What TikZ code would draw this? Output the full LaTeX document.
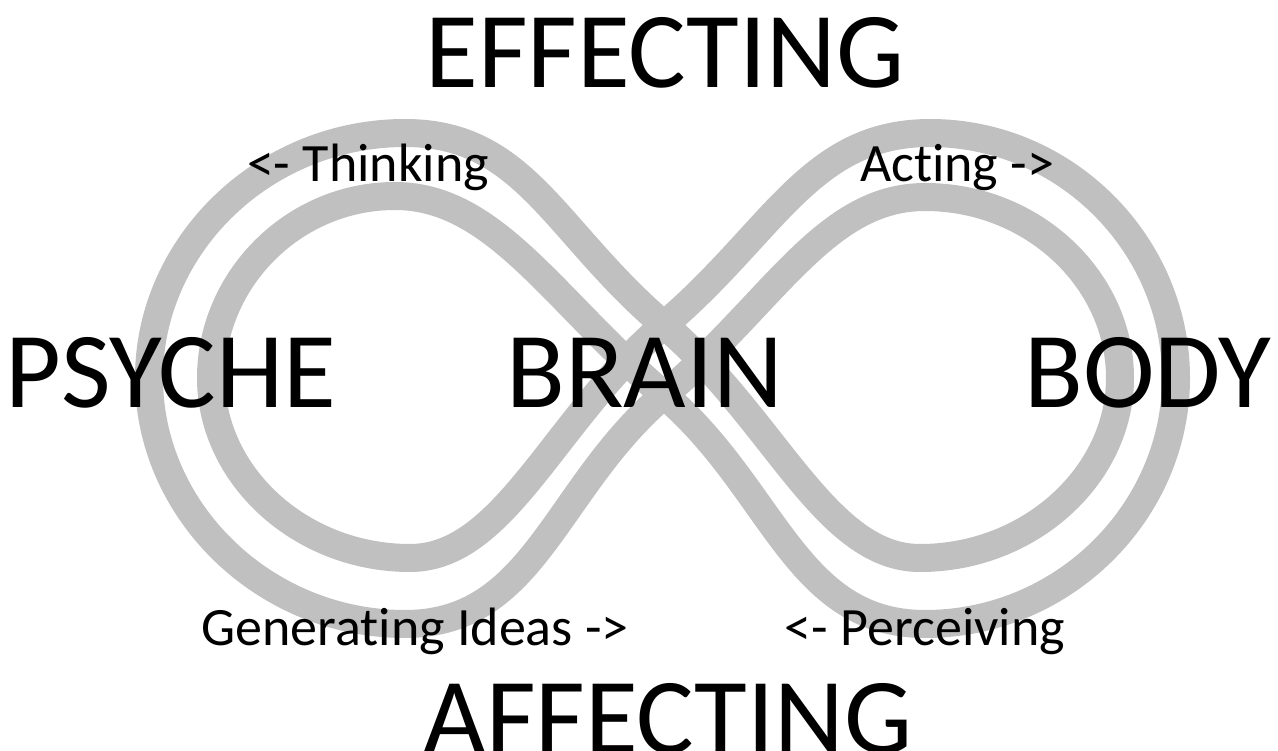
\documentclass[tikz,border=0pt]{standalone}
\usepackage{fontspec}
\setmainfont{Carlito}[Ligatures=NoCommon]
\definecolor{loopgray}{HTML}{C0C0C0}
\begin{document}
\begin{tikzpicture}[x=1pt,y=-1pt,
  loopline/.style={draw=loopgray,line width=28pt,line join=round},
  bigtext/.style={font=\fontsize{108}{110}\selectfont,anchor=base,inner sep=0pt},
  smalltext/.style={font=\fontsize{54}{56}\selectfont,anchor=base,inner sep=0pt}]
\useasboundingbox[fill=white] (0,0) rectangle (1278,751);
% edge curve: left lobe outer + right lobe inner
\path[loopline] (664,325) .. controls (774,418) and (825,558) .. (920,558)
  .. controls (1030,558) and (1120,475) .. (1120,378)
  .. controls (1120,280) and (1033,197) .. (925,197)
  .. controls (825,197) and (774,301.5) .. (664,395)
  .. controls (554,488.5) and (535,624) .. (405,624)
  .. controls (264,624) and (149,511) .. (149,378)
  .. controls (149,245) and (264,133) .. (405,133)
  .. controls (525,133) and (554,231.5) .. (664,325) -- cycle;
% edge curve: left lobe inner + right lobe outer
\path[loopline] (664,395) .. controls (774,488.5) and (795,624) .. (925,624)
  .. controls (1064,624) and (1176,511) .. (1176,378)
  .. controls (1176,245) and (1066,133) .. (930,133)
  .. controls (810,133) and (774,231.5) .. (664,325)
  .. controls (554,418.5) and (505,558) .. (410,558)
  .. controls (300,558) and (211,475) .. (211,378)
  .. controls (211,280) and (293,196) .. (395,196)
  .. controls (495,196) and (554,301.5) .. (664,395) -- cycle;
\node[bigtext] (effecting) at (665,88) {EFFECTING};
\node[bigtext] (psyche) at (171,408) {PSYCHE};
\node[bigtext] (brain) at (645,408) {BRAIN};
\node[bigtext] (body) at (1148,408) {BODY};
\node[bigtext] (affecting) at (668,753) {AFFECTING};
\node[smalltext] (thinking) at (368,182) {<- Thinking};
\node[smalltext] (acting) at (957,182) {Acting ->};
\node[smalltext] (generating) at (415,645) {Generating Ideas ->};
\node[smalltext] (perceiving) at (925,645) {<- Perceiving};
\end{tikzpicture}
\end{document}
